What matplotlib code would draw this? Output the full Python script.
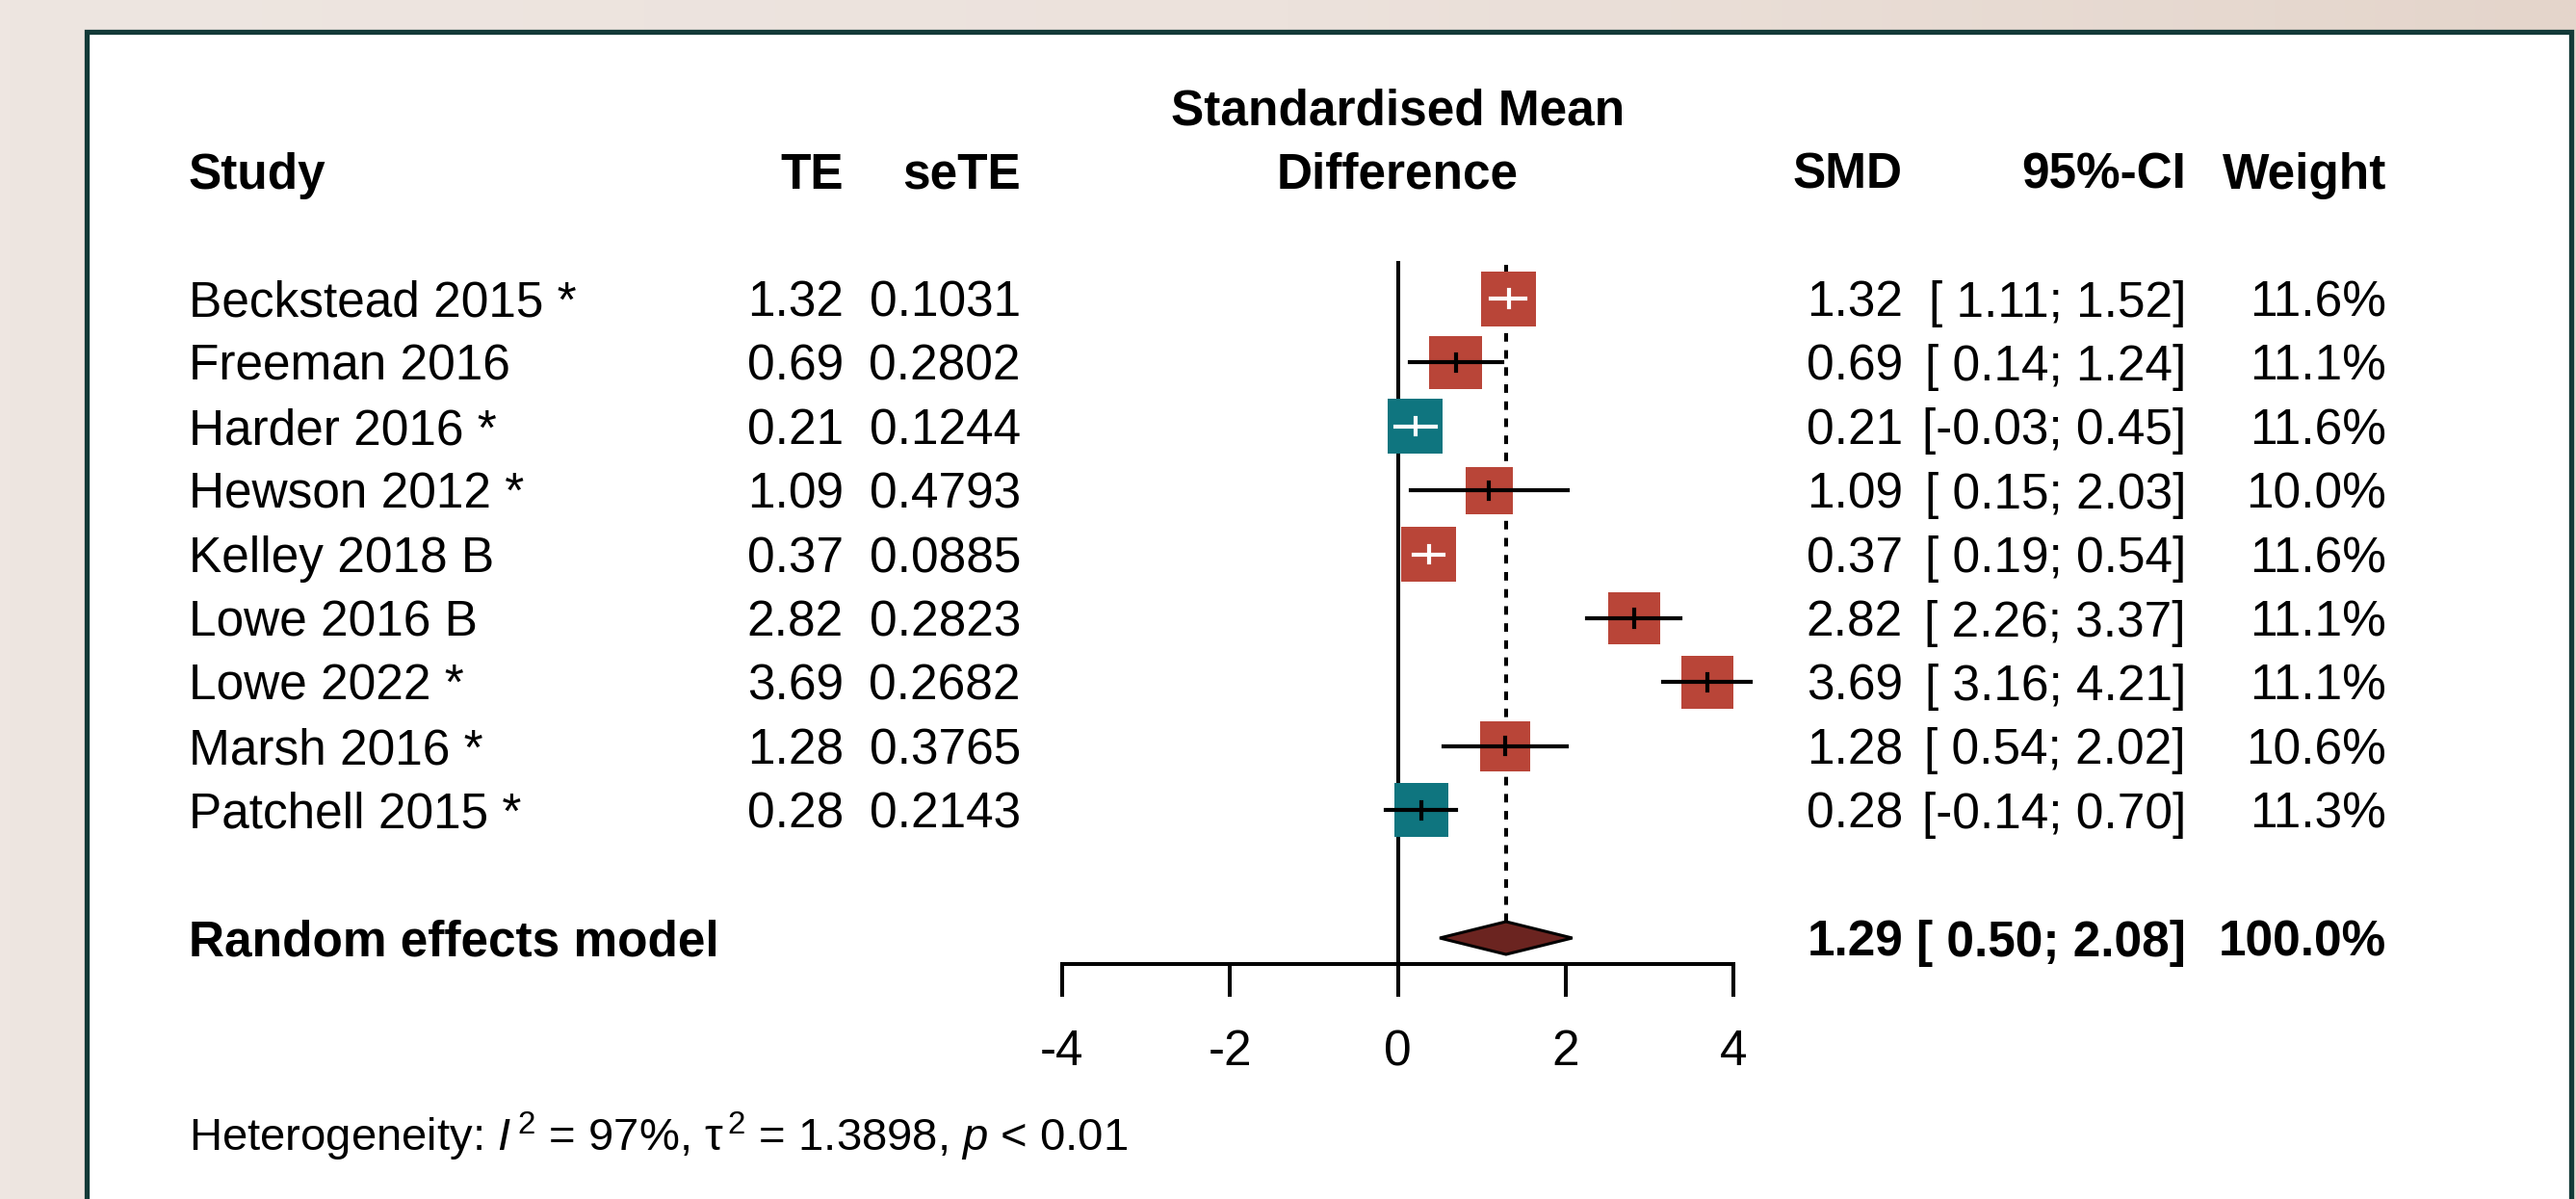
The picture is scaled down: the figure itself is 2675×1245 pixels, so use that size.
import numpy as np
import matplotlib
matplotlib.use('Agg')
import matplotlib.pyplot as plt
from matplotlib.patches import Rectangle, Polygon
from matplotlib.colors import LinearSegmentedColormap
from matplotlib.transforms import blended_transform_factory

# study data
studies = ['Beckstead 2015 *', 'Freeman 2016', 'Harder 2016 *', 'Hewson 2012 *',
           'Kelley 2018 B', 'Lowe 2016 B', 'Lowe 2022 *', 'Marsh 2016 *', 'Patchell 2015 *']
te = [1.32, 0.69, 0.21, 1.09, 0.37, 2.82, 3.69, 1.28, 0.28]
sete = [0.1031, 0.2802, 0.1244, 0.4793, 0.0885, 0.2823, 0.2682, 0.3765, 0.2143]
ci_lower = [1.11, 0.14, -0.03, 0.15, 0.19, 2.26, 3.16, 0.54, -0.14]
ci_upper = [1.52, 1.24, 0.45, 2.03, 0.54, 3.37, 4.21, 2.02, 0.70]
weights = [11.6, 11.1, 11.6, 10.0, 11.6, 11.1, 11.1, 10.6, 11.3]

# pooled result
pooled_label = 'Random effects model'
pooled_est = 1.29
pooled_lower = 0.50
pooled_upper = 2.08
pooled_weight = 100.0
het_text = 'Heterogeneity: $I^{\\,2}$ = 97%, τ$^{\\,2}$ = 1.3898, $p$ < 0.01'

x_ticks = [-4, -2, 0, 2, 4]

plt.rcParams['font.family'] = ['Liberation Sans', 'DejaVu Sans']
plt.rcParams['mathtext.fontset'] = 'custom'
plt.rcParams['mathtext.rm'] = 'Liberation Sans'
plt.rcParams['mathtext.it'] = 'Liberation Sans:italic'
plt.rcParams['axes.unicode_minus'] = False

W, H = 2675, 1245
fig = plt.figure(figsize=(W / 100, H / 100), dpi=100)

# background with a soft gradient and the white panel
bg = fig.add_axes([0, 0, 1, 1], zorder=-10)
grad = np.linspace(0, 1, 256)[None, :]
cmap = LinearSegmentedColormap.from_list('bg', ['#EEE6E1', '#ECE2DC', '#E4D5CB'])
bg.imshow(grad, aspect='auto', cmap=cmap, extent=[0, 1, 0, 1], transform=bg.transAxes)
bg.add_patch(Rectangle((90 / W, -0.05), 2580 / W, 1.05 - 33 / H, transform=bg.transAxes,
                       facecolor='white', edgecolor='#133A38', linewidth=3.8))
bg.set_xlim(0, 1)
bg.set_ylim(0, 1)
bg.axis('off')

# forest axes: rows in y, effect size in x
row0_px, row_h = 310, 66.4
x_left_px, x_right_px = 1103, 1800
ax = fig.add_axes([x_left_px / W, 0, (x_right_px - x_left_px) / W, 1])
ax.patch.set_alpha(0)
ax.set_xlim(-4, 4)
ax.set_ylim((H - row0_px) / row_h, -row0_px / row_h)
px_per_unit = (x_right_px - x_left_px) / 8.0

n = len(studies)
rows = np.arange(n)
pooled_row = n + 1
axis_row = (1001 - row0_px) / row_h

for spine in ['top', 'left', 'right']:
    ax.spines[spine].set_visible(False)
ax.spines['bottom'].set_position(('data', axis_row))
ax.spines['bottom'].set_linewidth(2.9)
ax.set_yticks([])
ax.set_xticks(x_ticks)
ax.set_xticklabels([str(t) for t in x_ticks])
ax.tick_params(axis='x', direction='out', length=24.5, width=2.9, pad=24, labelsize=37)

# reference lines
diamond_h = 17 / row_h
ax.plot([0, 0], [-0.56, axis_row], color='black', lw=2.9, clip_on=False, zorder=1)
ax.plot([pooled_est, pooled_est], [-0.52, pooled_row - diamond_h], color='black', lw=2.9,
        ls=(0, (2.2, 2.2)), clip_on=False, zorder=1)

red, teal = '#B94538', '#0F757F'
max_side_px = 57
for i in rows:
    side_px = max_side_px * weights[i] / max(weights)
    w_u = side_px / px_per_unit
    h_u = side_px / row_h
    col = teal if ci_lower[i] <= 0 else red
    ax.add_patch(Rectangle((te[i] - w_u / 2, i - h_u / 2), w_u, h_u, facecolor=col,
                           edgecolor='none', zorder=2, clip_on=False))
    inside = (ci_lower[i] >= te[i] - w_u / 2) and (ci_upper[i] <= te[i] + w_u / 2)
    lc = 'white' if inside else 'black'
    ax.plot([ci_lower[i], ci_upper[i]], [i, i], color=lc, lw=3.0, zorder=3, clip_on=False)
    ax.plot([te[i], te[i]], [i - 0.13, i + 0.13], color=lc, lw=3.0, zorder=3, clip_on=False)

ax.add_patch(Polygon([[pooled_lower, pooled_row], [pooled_est, pooled_row - diamond_h],
                      [pooled_upper, pooled_row], [pooled_est, pooled_row + diamond_h]],
                     closed=True, facecolor='#6B2420', edgecolor='black', lw=2.2,
                     zorder=3, clip_on=False))

# text columns
tr = blended_transform_factory(fig.transFigure, ax.transData)
fs = 37
dy = 0.28  # baseline offset in rows


def put(x_px, row, s, ha='left', bold=False, size=fs):
    ax.text(x_px / W, row + dy, s, transform=tr, ha=ha, va='baseline', fontsize=size,
            fontweight='bold' if bold else 'normal')


x_study, x_te, x_sete = 196, 876, 1060
x_smd, x_ci, x_w = 1976, 2270, 2478
x_mid = (x_left_px + x_right_px) / 2

put(x_study, -2, 'Study', bold=True)
put(x_te, -2, 'TE', ha='right', bold=True)
put(x_sete, -2, 'seTE', ha='right', bold=True)
put(x_mid, -3, 'Standardised Mean', ha='center', bold=True)
put(x_mid, -2, 'Difference', ha='center', bold=True)
put(x_smd, -2, 'SMD', ha='right', bold=True)
put(x_ci, -2, '95%-CI', ha='right', bold=True)
put(x_w, -2, 'Weight', ha='right', bold=True)


def ci_str(lo, hi):
    return '[' + ('%5.2f' % lo).replace('  ', ' ') + '; ' + '%4.2f' % hi + ']'


for i in rows:
    put(x_study, i, studies[i])
    put(x_te, i, '%.2f' % te[i], ha='right')
    put(x_sete, i, '%.4f' % sete[i], ha='right')
    put(x_smd, i, '%.2f' % te[i], ha='right')
    put(x_ci, i, ci_str(ci_lower[i], ci_upper[i]), ha='right')
    put(x_w, i, '%.1f%%' % weights[i], ha='right')

put(x_study, pooled_row, pooled_label, bold=True)
put(x_smd, pooled_row, '%.2f' % pooled_est, ha='right', bold=True)
put(x_ci, pooled_row, ci_str(pooled_lower, pooled_upper), ha='right', bold=True)
put(x_w, pooled_row, '%.1f%%' % pooled_weight, ha='right', bold=True)

put(x_study, (1177 - row0_px) / row_h, het_text, size=34)

fig.savefig('out.png', dpi=100)
